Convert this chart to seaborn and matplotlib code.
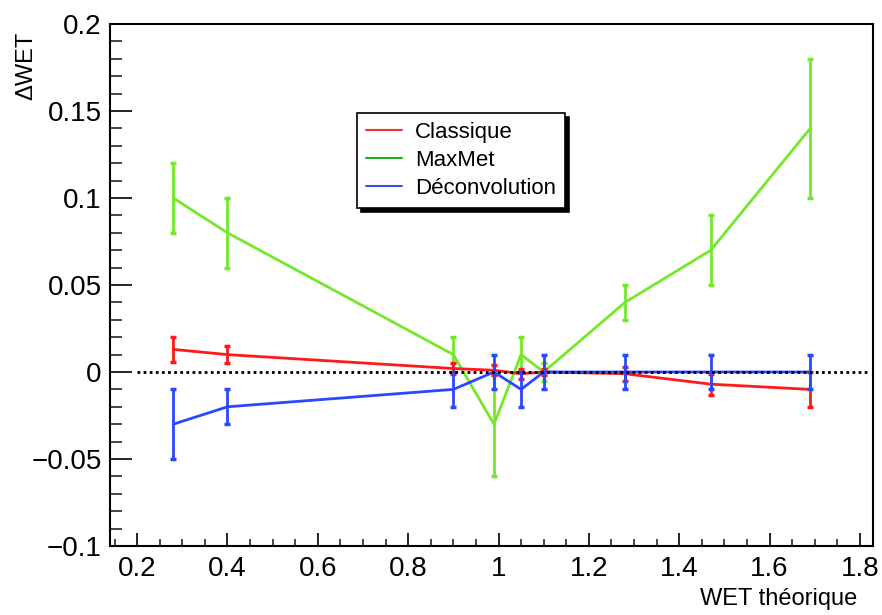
import matplotlib
matplotlib.use('Agg')
import matplotlib.pyplot as plt
import numpy as np
import pandas as pd
import seaborn as sns
from matplotlib.lines import Line2D
from matplotlib.ticker import MultipleLocator, FuncFormatter

sns.set_theme(style="white")
plt.rcParams['font.family'] = ['Liberation Sans', 'DejaVu Sans']
plt.rcParams['text.color'] = 'black'

# WET theorique values (x)
wet = [0.28, 0.40, 0.90, 0.99, 1.05, 1.10, 1.28, 1.47, 1.69]

# delta WET per method, with errors
classique = [0.013, 0.010, 0.002, 0.001, -0.001, 0.000, -0.001, -0.007, -0.010]
classique_err = [0.007, 0.005, 0.003, 0.003, 0.003, 0.002, 0.004, 0.006, 0.010]

maxmet = [0.10, 0.08, 0.01, -0.03, 0.01, 0.00, 0.04, 0.07, 0.14]
maxmet_err = [0.02, 0.02, 0.01, 0.03, 0.01, 0.005, 0.01, 0.02, 0.04]

deconv = [-0.03, -0.02, -0.01, 0.00, -0.01, 0.00, 0.00, 0.00, 0.00]
deconv_err = [0.02, 0.01, 0.01, 0.01, 0.01, 0.01, 0.01, 0.01, 0.01]

names = ['Classique', 'MaxMet', 'Déconvolution']
line_colors = ['#ff1a1a', '#74e82a', '#2a48ff']
legend_colors = ['#ee3333', '#1fb01f', '#3a50e8']

df = pd.DataFrame({
    'wet': wet * 3,
    'dwet': classique + maxmet + deconv,
    'err': classique_err + maxmet_err + deconv_err,
    'method': [n for n in names for _ in wet],
})

fig = plt.figure(figsize=(8.82, 6.15), dpi=100)
ax = fig.add_axes([110 / 882, 1 - 546 / 615, 763 / 882, 522 / 615])

order = {'MaxMet': 2, 'Classique': 3, 'Déconvolution': 4}
for name, col in zip(names, line_colors):
    sub = df[df.method == name]
    sns.lineplot(data=sub, x='wet', y='dwet', color=col, lw=2, ax=ax,
                 sort=False, estimator=None, zorder=order[name])
    ax.errorbar(sub.wet, sub.dwet, yerr=sub.err, fmt='none', ecolor=col,
                elinewidth=2, capsize=2.5, capthick=2.5, zorder=order[name])

ax.plot([0.2, 1.82], [0, 0], color='black', ls=(0, (1, 1.2)), lw=2, zorder=6)

ax.set_xlim(0.14, 1.829)
ax.set_ylim(-0.1, 0.2)
ax.set_xlabel('')
ax.set_ylabel('')

ax.xaxis.set_major_locator(MultipleLocator(0.2))
ax.xaxis.set_minor_locator(MultipleLocator(0.05))
ax.yaxis.set_major_locator(MultipleLocator(0.05))
ax.yaxis.set_minor_locator(MultipleLocator(0.01))
fmt = FuncFormatter(lambda v, p: ('%g' % round(v, 3)).replace('-', '\u2212'))
ax.xaxis.set_major_formatter(fmt)
ax.yaxis.set_major_formatter(fmt)

ax.tick_params(axis='y', which='major', direction='in', length=16, width=1.2,
               labelsize=20, pad=6, left=True, right=False, colors='black')
ax.tick_params(axis='y', which='minor', direction='in', length=8.5, width=1.2,
               left=True, right=False)
ax.tick_params(axis='x', which='major', direction='in', length=9.5, width=1.2,
               labelsize=20, pad=7, bottom=True, top=False, colors='black')
ax.tick_params(axis='x', which='minor', direction='in', length=5, width=1.2,
               bottom=True, top=False)
for s in ax.spines.values():
    s.set_color('black')
    s.set_linewidth(1.5)

handles = [Line2D([], [], color=c, lw=1.5) for c in legend_colors]
leg = ax.legend(handles, names, loc='upper left', bbox_to_anchor=(0.324, 0.8295),
                borderaxespad=0, fontsize=16, handlelength=1.6, handletextpad=0.6,
                labelspacing=0.32, borderpad=0.4, frameon=True, fancybox=False,
                shadow={'color': 'black', 'alpha': 1, 'ox': 3, 'oy': -3})
leg.get_frame().set_edgecolor('black')
leg.get_frame().set_linewidth(1.2)
leg.get_frame().set_alpha(1)
leg.set_zorder(10)
for t in leg.get_texts():
    t.set_color('black')

fig.text(26 / 882, 1 - 32 / 615, '\u0394WET', rotation=90, ha='center', va='top',
         fontsize=17)
fig.text(857 / 882, 1 - 605 / 615, 'WET théorique', ha='right', va='baseline',
         fontsize=17)

fig.savefig('out.png', dpi=100)
